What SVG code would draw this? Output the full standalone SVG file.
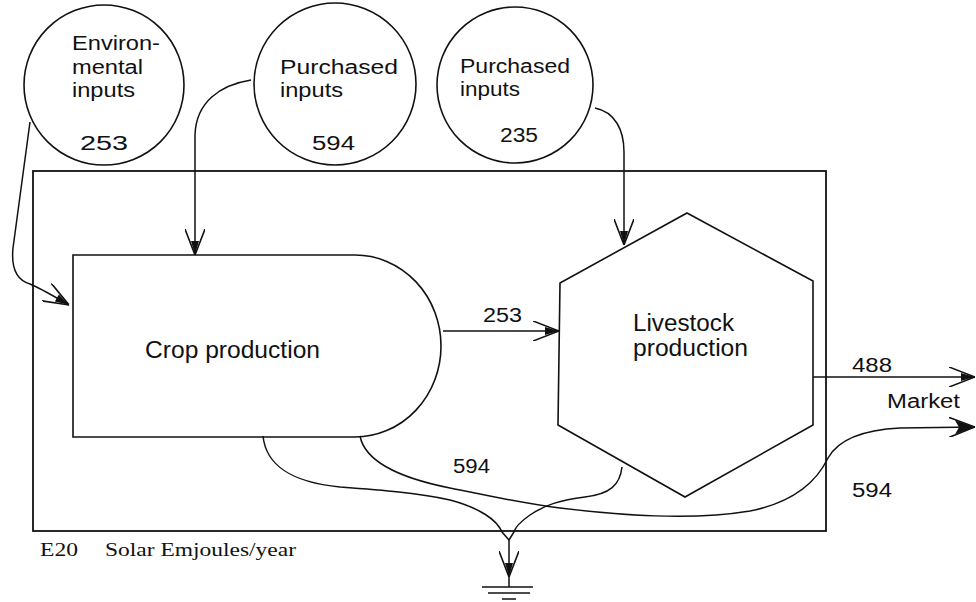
<svg xmlns="http://www.w3.org/2000/svg" width="976" height="602" viewBox="0 0 976 602">
<style>
  .shape { fill: none; stroke: #111; stroke-width: 1.6; }
  .box { fill: none; stroke: #111; stroke-width: 1.8; }
  .flow { fill: none; stroke: #111; stroke-width: 1.5; }
  .t { font-family: "Liberation Sans", Arial, sans-serif; font-size: 20px; fill: #111; }
  .tl { font-family: "Liberation Sans", Arial, sans-serif; font-size: 23px; fill: #111; }
  .cap { font-family: "Liberation Serif", "Times New Roman", serif; font-size: 19px; fill: #111; }
</style>
<defs>
  <marker id="arr" viewBox="0 0 26 20" refX="26" refY="10" markerWidth="26" markerHeight="20" markerUnits="userSpaceOnUse" orient="auto">
    <path d="M0,0 L26,10 L0,20" fill="none" stroke="#111" stroke-width="1.6"/>
    <path d="M12,6 L26,10 L12,14 Z" fill="#111"/>
  </marker>
  <marker id="arrf" viewBox="0 0 26 20" refX="26" refY="10" markerWidth="26" markerHeight="20" markerUnits="userSpaceOnUse" orient="auto">
    <path d="M0,0 L26,10 L0,20" fill="none" stroke="#111" stroke-width="1.6"/>
    <path d="M6,3 L26,10 L6,17 L10,10 Z" fill="#111"/>
  </marker>
</defs>

<g id="system-boundary">
  <rect class="box" x="33" y="171" width="793" height="360"/>
</g>

<g id="env-inputs">
  <circle class="shape" cx="104" cy="85" r="80"/>
  <text class="t" x="72" y="50" textLength="88" lengthAdjust="spacingAndGlyphs">Environ-</text>
  <text class="t" x="72" y="74" textLength="71" lengthAdjust="spacingAndGlyphs">mental</text>
  <text class="t" x="72" y="97" textLength="63" lengthAdjust="spacingAndGlyphs">inputs</text>
  <text class="t" x="80" y="150" textLength="48" lengthAdjust="spacingAndGlyphs">253</text>
</g>

<g id="purchased-inputs-594">
  <circle class="shape" cx="335" cy="84" r="81"/>
  <text class="t" x="280" y="74" textLength="118" lengthAdjust="spacingAndGlyphs">Purchased</text>
  <text class="t" x="280" y="97" textLength="63" lengthAdjust="spacingAndGlyphs">inputs</text>
  <text class="t" x="312" y="150" textLength="43" lengthAdjust="spacingAndGlyphs">594</text>
</g>

<g id="purchased-inputs-235">
  <circle class="shape" cx="515" cy="85" r="78"/>
  <text class="t" x="460" y="73" textLength="110" lengthAdjust="spacingAndGlyphs">Purchased</text>
  <text class="t" x="460" y="96" textLength="60" lengthAdjust="spacingAndGlyphs">inputs</text>
  <text class="t" x="500" y="142" textLength="38" lengthAdjust="spacingAndGlyphs">235</text>
</g>

<g id="crop-production">
  <path class="shape" d="M73,255 H355 A86,91 0 0 1 355,437 H73 Z"/>
  <text class="tl" x="145" y="358" textLength="175" lengthAdjust="spacingAndGlyphs">Crop production</text>
</g>

<g id="livestock-production">
  <path class="shape" d="M687,213 L813,281 L813,425 L685,497 L558,425 L560,283 Z"/>
  <text class="tl" x="633" y="331" textLength="101" lengthAdjust="spacingAndGlyphs">Livestock</text>
  <text class="tl" x="633" y="356" textLength="115" lengthAdjust="spacingAndGlyphs">production</text>
</g>

<g id="heat-sink">
  <line class="flow" x1="482" y1="587" x2="533" y2="587"/>
  <line class="flow" x1="488" y1="593" x2="530" y2="593"/>
  <line class="flow" x1="502" y1="599" x2="516" y2="599"/>
</g>

<g id="connectors">
  <path class="flow" d="M30,122 L13,248 C11,268 16,280 30,284 C42,289 55,297 69,305" marker-end="url(#arr)"/>
  <path class="flow" d="M251,80 C220,85 196,102 195,135 L195,255" marker-end="url(#arr)"/>
  <path class="flow" d="M595,108 C615,112 624,130 624,152 L624,245" marker-end="url(#arr)"/>
  <path class="flow" d="M443,331 L559,331" marker-end="url(#arr)"/>
  <path class="flow" d="M813,377 L975,377" marker-end="url(#arr)"/>
  <path class="flow" d="M360,436 C365,462 400,478 450,488 C490,496 520,503 560,508 C620,515 690,521 750,511 C790,503 815,485 828,458 C838,440 860,430 900,428 L975,427" marker-end="url(#arrf)"/>
  <path class="flow" d="M263,436 C266,465 290,482 340,487 C380,490 420,493 450,500 C480,508 497,520 502,532 L509,540"/>
  <path class="flow" d="M622,467 C620,485 610,494 585,497 C560,500 545,505 530,515 C520,522 515,528 514,532 L509,540"/>
  <path class="flow" d="M509,540 L509,577" marker-end="url(#arr)"/>
  <line class="flow" x1="509" y1="577" x2="509" y2="587"/>
  <text class="t" x="483" y="322" textLength="39" lengthAdjust="spacingAndGlyphs">253</text>
  <text class="t" x="453" y="473" textLength="37" lengthAdjust="spacingAndGlyphs">594</text>
  <text class="t" x="852" y="372" textLength="40" lengthAdjust="spacingAndGlyphs">488</text>
  <text class="t" x="887" y="408" textLength="73" lengthAdjust="spacingAndGlyphs">Market</text>
  <text class="t" x="852" y="497" textLength="40" lengthAdjust="spacingAndGlyphs">594</text>
</g>

<g id="caption">
  <text class="cap" x="40" y="556" textLength="38" lengthAdjust="spacingAndGlyphs">E20</text>
  <text class="cap" x="105" y="556" textLength="191" lengthAdjust="spacingAndGlyphs">Solar Emjoules/year</text>
</g>
</svg>
